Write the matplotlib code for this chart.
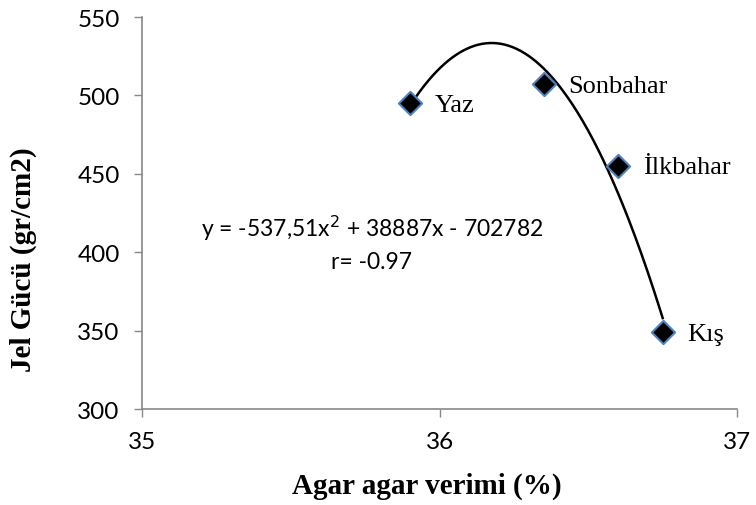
import numpy as np
import matplotlib
matplotlib.use("Agg")
import matplotlib.pyplot as plt

seasons = ["Yaz", "Sonbahar", "İlkbahar", "Kış"]
agar_yield = [35.90, 36.35, 36.60, 36.75]
gel_strength = [495, 507, 455, 349]
x_ticks = [35, 36, 37]
y_ticks = [300, 350, 400, 450, 500, 550]

fig = plt.figure(figsize=(7.56, 5.06), dpi=100)
ax = fig.add_axes([0.1878, 0.1897, 0.975 - 0.1878, 0.9644 - 0.1897])

coef = np.polyfit(agar_yield, gel_strength, 2)
xs = np.linspace(min(agar_yield), max(agar_yield), 200)
ax.plot(xs, np.polyval(coef, xs), color="black", lw=1.8, zorder=2)

ax.scatter(agar_yield, gel_strength, marker="D", s=140, facecolor="black",
           edgecolor="#4f81bd", linewidth=1.5, zorder=3)

for s, x, y in zip(seasons, agar_yield, gel_strength):
    ax.annotate(s, (x, y), xytext=(18, -1), textcoords="offset points",
                va="center", ha="left", fontsize=19, family="Liberation Serif")

ax.text(35.773, 416, "y = -537,51x$^2$ + 38887x - 702782", ha="center", va="center",
        fontsize=16.5, family="Lato")
ax.text(35.773, 394, "r= -0.97", ha="center", va="center", fontsize=16.5, family="Lato")

ax.set_xlim(35, 37)
ax.set_ylim(300, 550)
ax.set_xticks(x_ticks)
ax.set_yticks(y_ticks)
for lab in ax.get_xticklabels() + ax.get_yticklabels():
    lab.set_family("Lato")
    lab.set_fontsize(17.5)
ax.tick_params(direction="out", length=6, color="#888888", width=1)
ax.tick_params(axis="x", pad=10)
ax.tick_params(axis="y", pad=10)
for sp in ["top", "right"]:
    ax.spines[sp].set_visible(False)
for sp in ["left", "bottom"]:
    ax.spines[sp].set_color("#888888")
    ax.spines[sp].set_linewidth(1.2)

ax.set_xlabel("Agar agar verimi (%)", fontsize=21, fontweight="bold",
              family="Liberation Serif")
ax.set_ylabel("Jel Gücü (gr/cm2)", fontsize=21, fontweight="bold",
              family="Liberation Serif")
ax.xaxis.set_label_coords(0.479, -0.16)
ax.yaxis.set_label_coords(-0.176, 0.383)

fig.savefig("out.png", dpi=100)
